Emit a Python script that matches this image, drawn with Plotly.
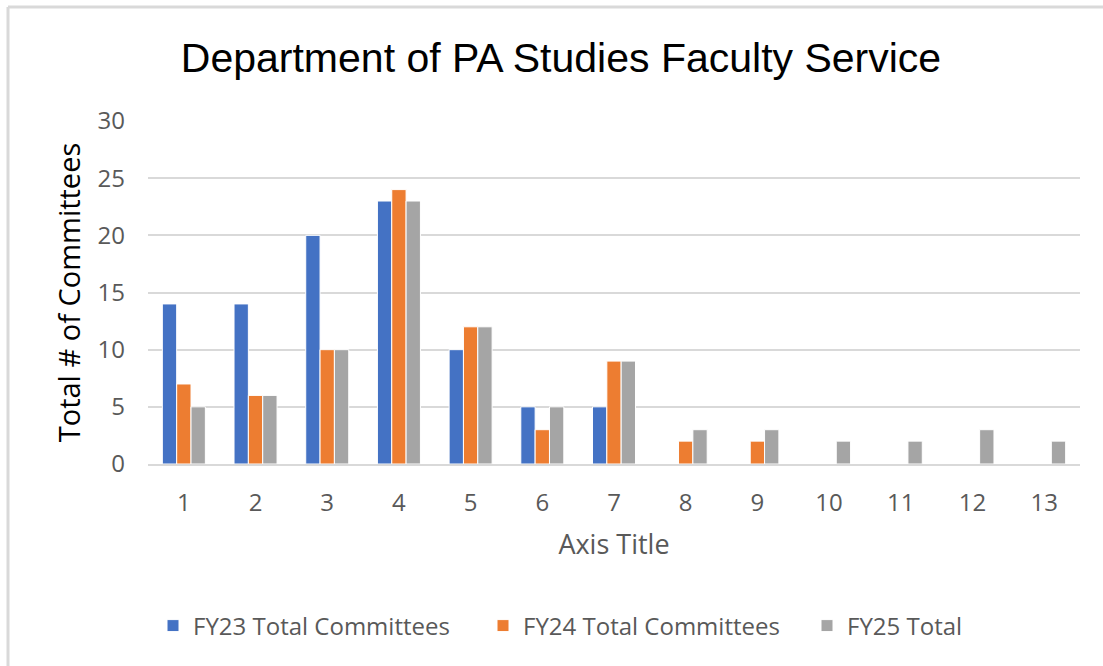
import plotly.graph_objects as go

categories = ["1", "2", "3", "4", "5", "6", "7", "8", "9", "10", "11", "12", "13"]
fy23 = [14, 14, 20, 23, 10, 5, 5, None, None, None, None, None, None]
fy24 = [7, 6, 10, 24, 12, 3, 9, 2, 2, None, None, None, None]
fy25 = [5, 6, 10, 23, 12, 5, 9, 3, 3, 2, 2, 3, 2]
y_ticks = [0, 5, 10, 15, 20, 25, 30]

W, H = 1103, 666
L, R, T, B = 148, 23, 121, 202
pw, ph = W - L - R, H - T - B

series = [("FY23 Total Committees", fy23, "#4472C4", "legend", 153),
          ("FY24 Total Committees", fy24, "#ED7D31", "legend2", 483),
          ("FY25 Total", fy25, "#A5A5A5", "legend3", 807)]

fig = go.Figure()
for name, vals, col, lg, _ in series:
    fig.add_trace(go.Bar(x=categories, y=vals, name=name, legend=lg,
                         marker=dict(color=col, line=dict(color="white", width=1))))

legend_common = dict(orientation="h", xanchor="left", y=-(626 - 464) / ph, yanchor="middle",
                     font=dict(size=24, color="#595959"), itemwidth=30, bgcolor="rgba(0,0,0,0)")
legends = {lg: dict(x=(px - L) / pw, **legend_common) for _, _, _, lg, px in series}

fig.update_layout(
    width=W, height=H,
    margin=dict(l=L, r=R, t=T, b=B),
    paper_bgcolor="white", plot_bgcolor="white",
    barmode="group", bargap=0.4, bargroupgap=0.0,
    title=dict(text="Department of PA Studies Faculty Service", x=561 / W, xanchor="center",
               y=1 - 58 / H, yanchor="middle",
               font=dict(family="Liberation Sans, Arial", size=41, color="#000000")),
    font=dict(family="Open Sans, Liberation Sans", color="#595959"),
    xaxis=dict(type="category", showgrid=False, showline=True, linecolor="#D9D9D9", linewidth=2,
               ticks="", tickfont=dict(size=24, color="#595959"), ticklabelstandoff=16,
               title=dict(text="Axis Title", font=dict(size=27, color="#595959"), standoff=18)),
    yaxis=dict(range=[0, 30], tickvals=y_ticks, showgrid=True, gridcolor="#D9D9D9", gridwidth=2,
               zeroline=False, ticks="", tickfont=dict(size=24, color="#595959"),
               ticklabelstandoff=22,
               title=dict(text="Total # of Committees", font=dict(size=29, color="#000000"), standoff=8)),
    showlegend=True,
    **legends,
)

# chart frame (top and left light-grey edges)
fig.add_shape(type="line", xref="paper", yref="paper",
              x0=(8 - L) / pw, x1=(W - L) / pw, y0=(H - B - 7) / ph, y1=(H - B - 7) / ph,
              line=dict(color="#D9D9D9", width=3))
fig.add_shape(type="line", xref="paper", yref="paper",
              x0=(8 - L) / pw, x1=(8 - L) / pw, y0=(H - B - 7) / ph, y1=-(B) / ph,
              line=dict(color="#D9D9D9", width=3))

fig.write_html("out.html", config={"displayModeBar": False},
               post_script="document.body.style.margin='0';document.body.style.overflow='hidden';")
